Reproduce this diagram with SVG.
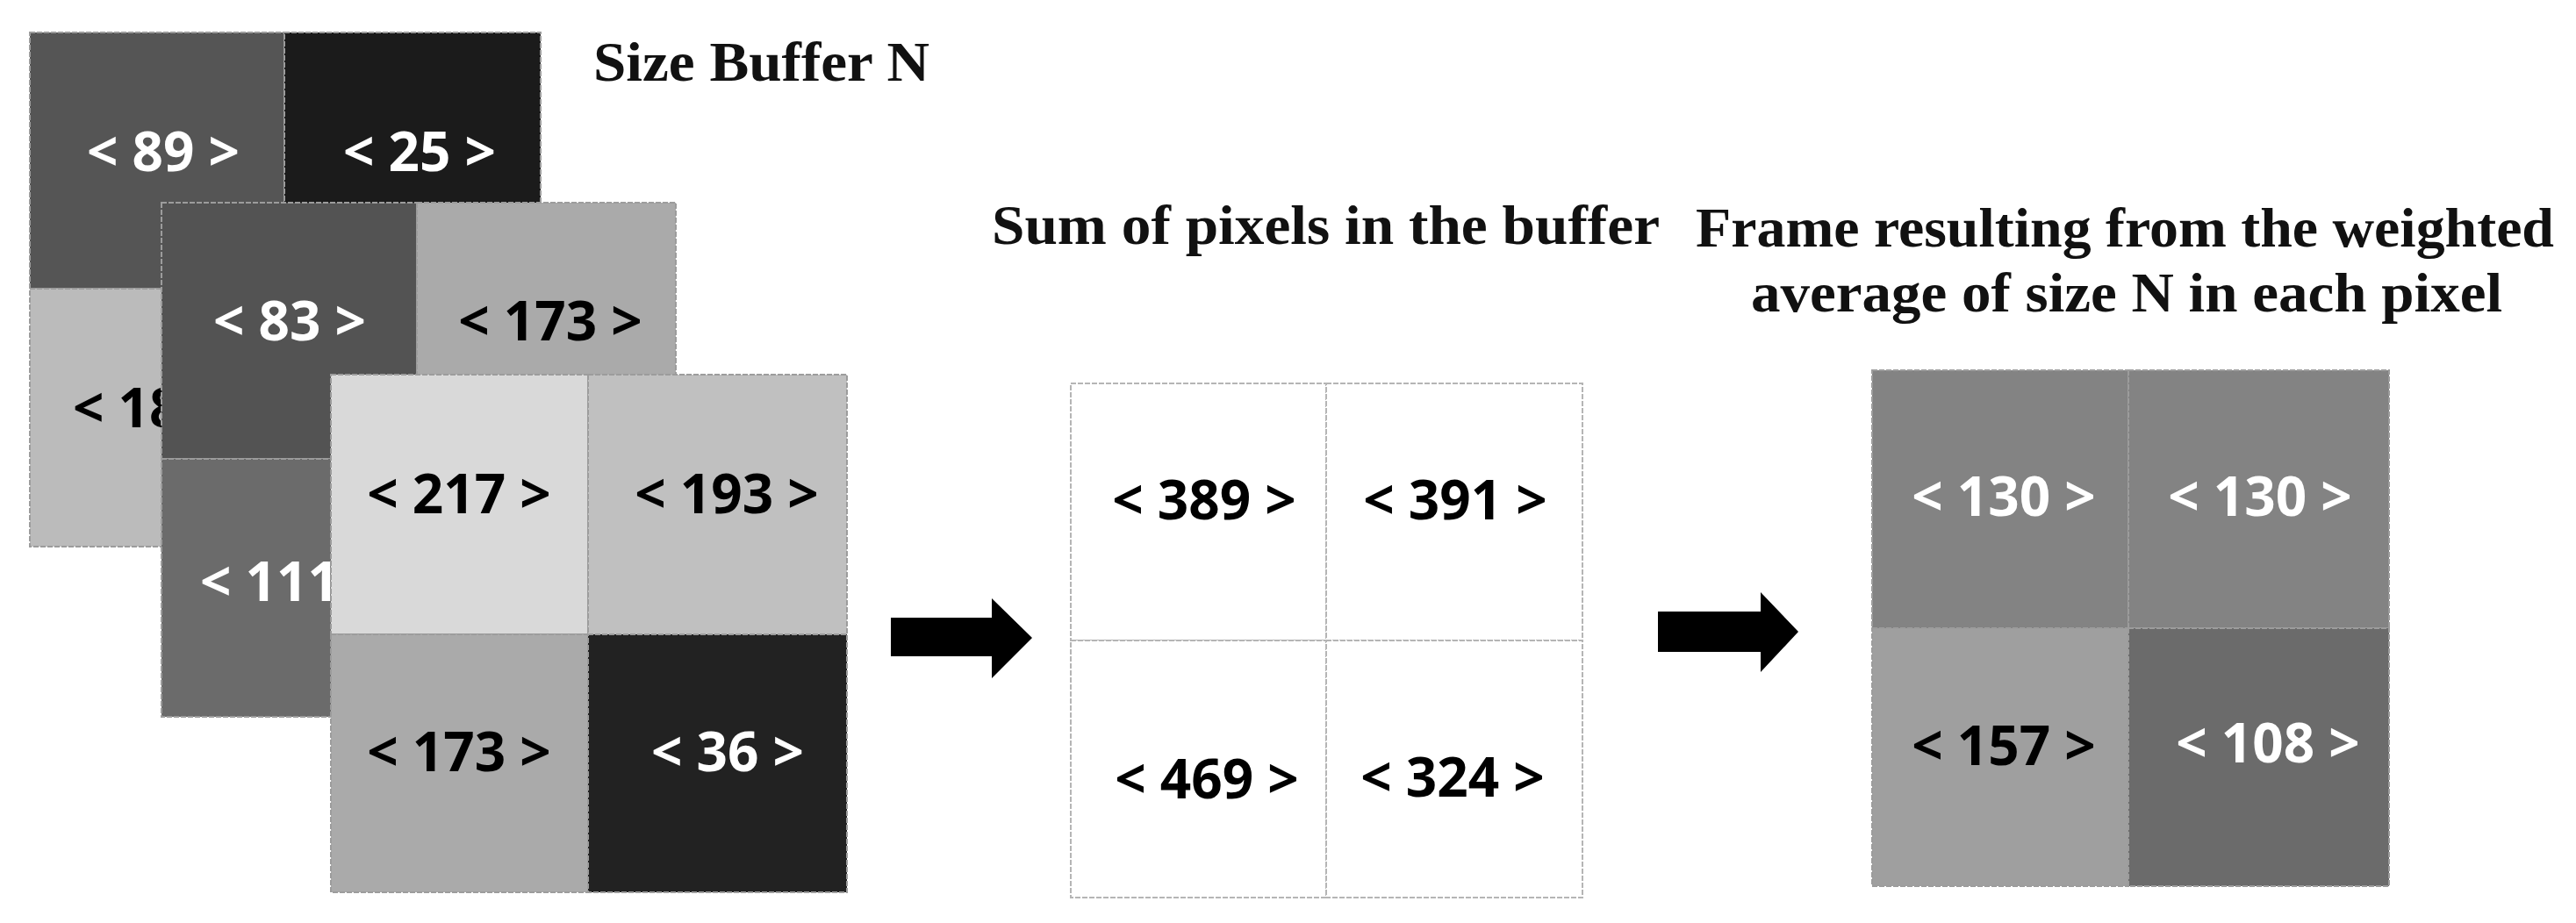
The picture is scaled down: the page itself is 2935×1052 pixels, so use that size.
<svg xmlns="http://www.w3.org/2000/svg" width="2935" height="1052" viewBox="0 0 2935 1052">
<style>
.cell{stroke:#9c9c9c;stroke-width:2;stroke-dasharray:6 2}
.num{font-family:"Open Sans","Liberation Sans",sans-serif;font-weight:700;font-size:62px;text-anchor:middle}
.numL{font-family:"Open Sans","Liberation Sans",sans-serif;font-weight:700;font-size:62px}
.w{fill:#ffffff}
.b{fill:#000000}
.title{font-family:"Liberation Serif","DejaVu Serif",serif;font-weight:700;font-size:64px;fill:#111}
.arrow{fill:#000}
</style>
<rect width="2935" height="1052" fill="#ffffff"/>

<g id="title-buffer">
<text class="title" x="676" y="92" font-size="63" textLength="383" lengthAdjust="spacingAndGlyphs">Size Buffer N</text>
</g>
<g id="title-sum">
<text class="title" x="1130" y="278" textLength="761" lengthAdjust="spacingAndGlyphs">Sum of pixels in the buffer</text>
</g>
<g id="title-result">
<text class="title" x="1932" y="281" textLength="978" lengthAdjust="spacingAndGlyphs">Frame resulting from the weighted</text>
<text class="title" x="1995" y="355" textLength="856" lengthAdjust="spacingAndGlyphs">average of size N in each pixel</text>
</g>

<g id="frame-back">
<rect class="cell" x="34" y="37" width="290" height="292" fill="#555555"/>
<rect class="cell" x="324" y="37" width="292" height="292" fill="#1b1b1b"/>
<rect class="cell" x="34" y="329" width="290" height="294" fill="#bbbbbb"/>
<rect class="cell" x="324" y="329" width="292" height="294" fill="#bbbbbb"/>
<text class="num w" x="186" y="195">&lt; 89 &gt;</text>
<text class="num w" x="478" y="195">&lt; 25 &gt;</text>
<text class="numL b" x="83" y="487">&lt; 18</text>
</g>

<g id="frame-middle">
<rect class="cell" x="184" y="231" width="291" height="292" fill="#535353"/>
<rect class="cell" x="475" y="231" width="295" height="292" fill="#aaaaaa"/>
<rect class="cell" x="184" y="523" width="291" height="294" fill="#6b6b6b"/>
<rect class="cell" x="475" y="523" width="295" height="294" fill="#6b6b6b"/>
<text class="num w" x="330" y="388">&lt; 83 &gt;</text>
<text class="num b" x="627" y="388">&lt; 173 &gt;</text>
<text class="numL w" x="228" y="685">&lt; 111</text>
</g>

<g id="frame-front">
<rect class="cell" x="377" y="427" width="293" height="296" fill="#d9d9d9"/>
<rect class="cell" x="670" y="427" width="295" height="296" fill="#c0c0c0"/>
<rect class="cell" x="377" y="723" width="293" height="294" fill="#aaaaaa"/>
<rect class="cell" x="670" y="723" width="295" height="294" fill="#222222"/>
<text class="num b" x="523" y="585">&lt; 217 &gt;</text>
<text class="num b" x="828" y="585">&lt; 193 &gt;</text>
<text class="num b" x="523" y="879">&lt; 173 &gt;</text>
<text class="num w" x="829" y="879">&lt; 36 &gt;</text>
</g>

<g id="frame-sum">
<rect class="cell" x="1220" y="437" width="291" height="293" fill="#ffffff" style="stroke:#b5b5b5"/>
<rect class="cell" x="1511" y="437" width="292" height="293" fill="#ffffff" style="stroke:#b5b5b5"/>
<rect class="cell" x="1220" y="730" width="291" height="293" fill="#ffffff" style="stroke:#b5b5b5"/>
<rect class="cell" x="1511" y="730" width="292" height="293" fill="#ffffff" style="stroke:#b5b5b5"/>
<text class="num b" x="1372" y="592">&lt; 389 &gt;</text>
<text class="num b" x="1658" y="592">&lt; 391 &gt;</text>
<text class="num b" x="1375" y="910">&lt; 469 &gt;</text>
<text class="num b" x="1655" y="908">&lt; 324 &gt;</text>
</g>

<g id="frame-result">
<rect class="cell" x="2133" y="422" width="292" height="294" fill="#838383"/>
<rect class="cell" x="2425" y="422" width="297" height="294" fill="#838383"/>
<rect class="cell" x="2133" y="716" width="292" height="294" fill="#9f9f9f"/>
<rect class="cell" x="2425" y="716" width="297" height="294" fill="#6b6b6b"/>
<text class="num w" x="2283" y="588">&lt; 130 &gt;</text>
<text class="num w" x="2575" y="588">&lt; 130 &gt;</text>
<text class="num b" x="2283" y="872">&lt; 157 &gt;</text>
<text class="num w" x="2584" y="869">&lt; 108 &gt;</text>
</g>

<g id="connectors">
<polygon class="arrow" points="1015,704 1130,704 1130,682 1176,727 1130,773 1130,748 1015,748"/>
<polygon class="arrow" points="1889,697 2006,697 2006,675 2049,720 2006,766 2006,743 1889,743"/>
</g>
</svg>
